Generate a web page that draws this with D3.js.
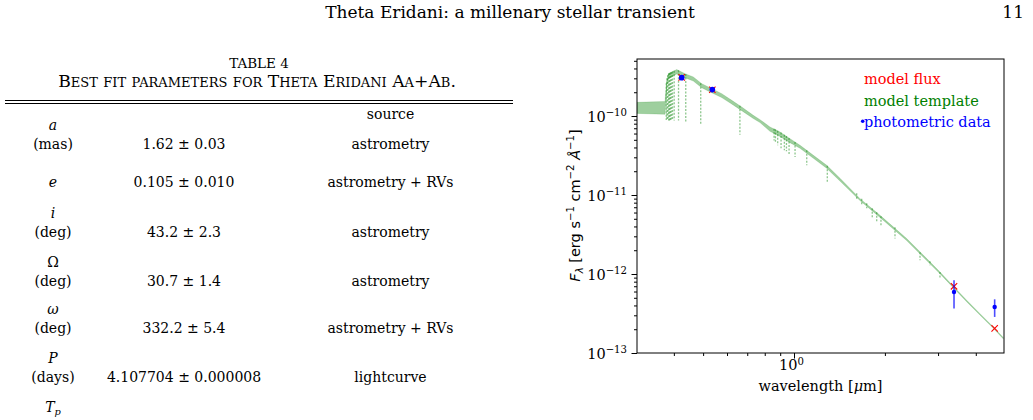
<!DOCTYPE html>
<html>
<head>
<meta charset="utf-8">
<script src="https://cdn.jsdelivr.net/npm/d3@7"></script>
<style>
  body { margin: 0; background: #fff; }
  svg { display: block; font-family: "DejaVu Serif", serif; }
</style>
</head>
<body>
<div id="page"></div>
<script>
// page header
const headerTitle = 'Theta Eridani: a millenary stellar transient';
const pageNumber = '11';

// table 4
const tableLabel = 'TABLE 4';
const tableCaption = 'Best fit parameters for Theta Eridani Aa+Ab.';
const paramSymbols = ['a', 'e', 'i', 'Ω', 'ω', 'P', 'T_p'];
const paramUnits = ['(mas)', '', '(deg)', '(deg)', '(deg)', '(days)', ''];
const paramValues = ['1.62 ± 0.03', '0.105 ± 0.010', '43.2 ± 2.3', '30.7 ± 1.4', '332.2 ± 5.4', '4.107704 ± 0.000008', ''];
const paramSources = ['astrometry', 'astrometry + RVs', 'astrometry', 'astrometry', 'astrometry + RVs', 'lightcurve', ''];

// SED: model template envelope (wavelength in micron, flux in erg/s/cm2/A)
const templateWave = [0.302, 0.374, 0.379, 0.3835, 0.3936, 0.4089, 0.4355, 0.4641, 0.4948, 0.5339, 0.5762, 0.6219, 0.6711, 0.733, 0.7717, 0.8327, 0.8989, 0.970, 1.047, 1.159, 1.283, 1.420, 1.654, 1.927, 2.361, 2.751, 3.044, 3.370, 3.732, 4.129, 4.571, 4.932];
const templateHigh = [1.49e-10, 1.53e-10, 2.83e-10, 3.44e-10, 3.61e-10, 3.87e-10, 3.44e-10, 3.12e-10, 2.57e-10, 2.22e-10, 1.92e-10, 1.58e-10, 1.30e-10, 1.02e-10, 9.0e-11, 7.26e-11, 6.27e-11, 5.17e-11, 4.26e-11, 3.18e-11, 2.38e-11, 1.63e-11, 9.0e-12, 5.53e-12, 2.81e-12, 1.57e-12, 1.06e-12, 6.99e-13, 4.64e-13, 3.15e-13, 2.13e-13, 1.57e-13];
const templateLow = [1.08e-10, 1.05e-10, 2.4e-10, 3.0e-10, 3.15e-10, 3.4e-10, 3.05e-10, 2.77e-10, 2.28e-10, 1.97e-10, 1.71e-10, 1.42e-10, 1.17e-10, 9.3e-11, 8.25e-11, 6.4e-11, 5.5e-11, 4.6e-11, 3.9e-11, 2.92e-11, 2.18e-11, 1.5e-11, 8.5e-12, 5.2e-12, 2.65e-12, 1.48e-12, 1.01e-12, 6.7e-13, 4.45e-13, 3.02e-13, 2.05e-13, 1.51e-13];

// absorption lines of the template (position, continuum, line bottom)
const lineWave = [0.3775, 0.3795, 0.382, 0.3845, 0.387, 0.3895, 0.3925, 0.396, 0.401, 0.4145, 0.438, 0.491, 0.662, 0.859, 0.868, 0.883, 0.906, 0.929, 0.944, 0.963, 1.008, 1.102, 1.289, 1.613, 1.676, 1.741, 1.816, 1.879, 1.941, 2.160, 2.614, 2.820, 3.044];
const lineTop = [2.6e-10, 3.0e-10, 3.3e-10, 3.45e-10, 3.5e-10, 3.55e-10, 3.6e-10, 3.65e-10, 3.75e-10, 3.8e-10, 3.4e-10, 2.6e-10, 1.35e-10, 6.9e-11, 6.8e-11, 6.5e-11, 6.2e-11, 5.8e-11, 5.6e-11, 5.25e-11, 4.7e-11, 3.7e-11, 2.35e-11, 1.05e-11, 9.0e-12, 7.85e-12, 6.8e-12, 6.04e-12, 5.37e-12, 3.9e-12, 1.88e-12, 1.45e-12, 1.06e-12];
const lineBottom = [8.9e-11, 8.9e-11, 8.9e-11, 8.8e-11, 8.8e-11, 8.8e-11, 8.8e-11, 8.8e-11, 8.8e-11, 8.8e-11, 8.4e-11, 7.7e-11, 5.8e-11, 4.9e-11, 4.65e-11, 4.26e-11, 3.9e-11, 3.68e-11, 3.57e-11, 3.27e-11, 3.03e-11, 2.38e-11, 1.46e-11, 8.57e-12, 7.41e-12, 6.79e-12, 5.07e-12, 4.51e-12, 4.13e-12, 2.81e-12, 1.49e-12, 1.29e-12, 8.83e-13];

// photometry and model flux at the photometric bands
const photWave = [0.4247, 0.5364, 3.388, 4.619];
const photFlux = [3.06e-10, 2.16e-10, 5.92e-13, 3.82e-13];
const photErrLow = [2.98e-10, 2.10e-10, 3.65e-13, 2.86e-13];
const photErrHigh = [3.14e-10, 2.22e-10, 8.32e-13, 4.78e-13];
const modelFlux = [3.08e-10, 2.15e-10, 6.99e-13, 2.05e-13];

const legendLabels = ['model flux', 'model template', 'photometric data'];
const legendColors = ['red', 'green', 'blue'];
const yMajorTicks = [1e-13, 1e-12, 1e-11, 1e-10];
const xMajorTicks = [1];

const W = 1033, H = 420;
const svg = d3.select('#page').append('svg').attr('width', W).attr('height', H);
svg.append('rect').attr('width', W).attr('height', H).attr('fill', '#fff');

// running head
svg.append('text').attr('x', 510).attr('y', 18).attr('text-anchor', 'middle')
  .attr('font-size', 17).text(headerTitle);
svg.append('text').attr('x', 1024).attr('y', 18).attr('text-anchor', 'end')
  .attr('font-size', 17).text(pageNumber);

// ---- table ----
function smallCaps(sel, str, big, small) {
  let cur = null, size = null;
  for (const ch of str) {
    const isLower = ch !== ch.toUpperCase();
    const s = isLower ? small : big;
    if (s !== size) {
      cur = sel.append('tspan').attr('font-size', s);
      size = s;
      cur.text('');
    }
    cur.text(cur.text() + ch.toUpperCase());
  }
}

function symbolText(sel, sym) {
  const parts = sym.split('_');
  sel.append('tspan').attr('font-style', sym === 'Ω' ? 'normal' : 'italic').text(parts[0]);
  if (parts[1]) {
    sel.append('tspan').attr('font-style', 'italic').attr('font-size', '0.7em')
      .attr('dy', 3).text(parts[1]);
  }
}

const table = svg.append('g').attr('font-size', 14);
table.append('text').attr('x', 259).attr('y', 68).attr('text-anchor', 'middle')
  .attr('font-size', 13.5).text(tableLabel);
const cap = table.append('text').attr('x', 257).attr('y', 87).attr('text-anchor', 'middle');
smallCaps(cap, tableCaption, 17.2, 13);

[100.5, 103.5].forEach(yy => {
  table.append('line').attr('x1', 5).attr('x2', 513).attr('y1', yy).attr('y2', yy)
    .attr('stroke', '#000').attr('stroke-width', 1);
});

const colX = [53, 184, 390.5];
const rowTop = [129.5, 186.5, 217.5, 267, 314, 363, 412];
const lineGap = 19;
table.append('text').attr('x', colX[2]).attr('y', 119).attr('text-anchor', 'middle').text('source');

paramSymbols.forEach((sym, i) => {
  const t = table.append('text').attr('x', colX[0]).attr('y', rowTop[i]).attr('text-anchor', 'middle');
  symbolText(t, sym);
  const lastY = paramUnits[i] ? rowTop[i] + lineGap : rowTop[i];
  if (paramUnits[i]) {
    table.append('text').attr('x', colX[0]).attr('y', lastY).attr('text-anchor', 'middle').text(paramUnits[i]);
  }
  table.append('text').attr('x', colX[1]).attr('y', lastY).attr('text-anchor', 'middle').text(paramValues[i]);
  table.append('text').attr('x', colX[2]).attr('y', lastY).attr('text-anchor', 'middle').text(paramSources[i]);
});

// ---- SED chart ----
const plot = { left: 637, right: 1004, top: 59, bottom: 353 };
const x = d3.scaleLog().domain([0.302, 4.96]).range([plot.left, plot.right]);
const y = d3.scaleLog().domain([1e-13, 5.27e-10]).range([plot.bottom, plot.top]);

svg.append('clipPath').attr('id', 'plotclip').append('rect')
  .attr('x', plot.left).attr('y', plot.top)
  .attr('width', plot.right - plot.left).attr('height', plot.bottom - plot.top);

const chart = svg.append('g').attr('clip-path', 'url(#plotclip)');

const templ = templateWave.map((w, i) => ({ w, hi: templateHigh[i], lo: templateLow[i] }));
const area = d3.area().x(d => x(d.w)).y0(d => y(d.lo)).y1(d => y(d.hi));
chart.append('path').datum(templ).attr('d', area)
  .attr('fill', 'green').attr('fill-opacity', 0.38)
  .attr('stroke', 'green').attr('stroke-opacity', 0.25).attr('stroke-width', 0.6);

chart.selectAll('line.absorption').data(lineWave).join('line')
  .attr('class', 'absorption')
  .attr('x1', d => x(d)).attr('x2', d => x(d))
  .attr('y1', (d, i) => y(lineTop[i])).attr('y2', (d, i) => y(lineBottom[i]))
  .attr('stroke', 'green').attr('stroke-opacity', 0.45)
  .attr('stroke-width', 1.3).attr('stroke-dasharray', '2,1.5');

// model flux (red x)
const xs = 3.2;
chart.selectAll('path.mflux').data(photWave).join('path')
  .attr('class', 'mflux')
  .attr('d', (d, i) => {
    const cx = x(d), cy = y(modelFlux[i]);
    return `M${cx - xs},${cy - xs}L${cx + xs},${cy + xs}M${cx - xs},${cy + xs}L${cx + xs},${cy - xs}`;
  })
  .attr('stroke', 'red').attr('stroke-width', 1.1).attr('fill', 'none');

// photometric data with error bars
chart.selectAll('line.err').data(photWave).join('line')
  .attr('class', 'err')
  .attr('x1', d => x(d)).attr('x2', d => x(d))
  .attr('y1', (d, i) => y(photErrHigh[i])).attr('y2', (d, i) => y(photErrLow[i]))
  .attr('stroke', 'blue').attr('stroke-opacity', 0.7).attr('stroke-width', 1.6);
chart.selectAll('circle.phot').data(photWave).join('circle')
  .attr('class', 'phot')
  .attr('cx', d => x(d)).attr('cy', (d, i) => y(photFlux[i]))
  .attr('r', (d, i) => i < 2 ? 2.8 : 2.2).attr('fill', 'blue');

// axes
const isPow10 = d => Math.abs(Math.log10(d) - Math.round(Math.log10(d))) < 1e-6;
function powLabels(g) {
  g.selectAll('.tick text').each(function (d) {
    const t = d3.select(this);
    const e = Math.round(Math.log10(d));
    t.text('');
    t.append('tspan').text('10');
    t.append('tspan').attr('font-size', '0.7em').attr('dy', '-0.55em')
      .text(String(e).replace('-', '\u2212'));
  });
  g.selectAll('text').attr('font-family', '"DejaVu Serif", serif').attr('font-size', 14.5).attr('fill', '#000');
}

const yAxis = svg.append('g').attr('transform', `translate(${plot.left},0)`)
  .call(d3.axisLeft(y).tickValues(yMajorTicks).tickSize(5.5).tickPadding(4.5).tickFormat(d => d))
  .call(g => g.select('.domain').remove())
  .call(powLabels);
yAxis.selectAll('.tick text').attr('dy', '0.35em');

svg.append('g').attr('transform', `translate(${plot.left},0)`)
  .call(d3.axisLeft(y).tickValues(y.ticks().filter(d => !isPow10(d))).tickSize(3).tickFormat(''))
  .call(g => g.select('.domain').remove());

const xAxis = svg.append('g').attr('transform', `translate(0,${plot.bottom})`)
  .call(d3.axisBottom(x).tickValues(xMajorTicks).tickSize(5.5).tickPadding(3).tickFormat(d => d))
  .call(g => g.select('.domain').remove())
  .call(powLabels);
xAxis.selectAll('.tick text').attr('dy', '0.62em').attr('x', -3);

svg.append('g').attr('transform', `translate(0,${plot.bottom})`)
  .call(d3.axisBottom(x).tickValues(x.ticks().filter(d => !isPow10(d))).tickSize(3).tickFormat(''))
  .call(g => g.select('.domain').remove());

svg.append('rect')
  .attr('x', plot.left).attr('y', plot.top)
  .attr('width', plot.right - plot.left).attr('height', plot.bottom - plot.top)
  .attr('fill', 'none').attr('stroke', '#000').attr('stroke-width', 1);

// axis labels
svg.append('text').attr('x', (plot.left + plot.right) / 2).attr('y', 391)
  .attr('text-anchor', 'middle').attr('font-size', 14.5)
  .call(t => {
    t.append('tspan').text('wavelength [');
    t.append('tspan').attr('font-style', 'italic').text('μ');
    t.append('tspan').text('m]');
  });

const ylab = svg.append('text')
  .attr('transform', `translate(580,205.5) rotate(-90)`)
  .attr('text-anchor', 'middle')
  .attr('font-family', '"DejaVu Sans", sans-serif').attr('font-size', 14.5);
ylab.append('tspan').attr('font-style', 'italic').text('F');
ylab.append('tspan').attr('font-style', 'italic').attr('font-size', '0.7em').attr('dy', 3).text('λ');
ylab.append('tspan').attr('dy', -3).text(' [erg s');
ylab.append('tspan').attr('font-size', '0.7em').attr('dy', -6).text('\u22121');
ylab.append('tspan').attr('dy', 6).text(' cm');
ylab.append('tspan').attr('font-size', '0.7em').attr('dy', -6).text('\u22122');
ylab.append('tspan').attr('dy', 6).attr('font-style', 'italic').text(' Å');
ylab.append('tspan').attr('font-size', '0.7em').attr('dy', -6).text('\u22121');
ylab.append('tspan').attr('dy', 6).text(']');

// legend
const legend = svg.append('g').attr('font-size', 14.5);
legend.selectAll('text').data(legendLabels).join('text')
  .attr('x', 864).attr('y', (d, i) => 84 + i * 21.5)
  .attr('fill', (d, i) => legendColors[i]).text(d => d);
legend.append('circle').attr('cx', 862.7).attr('cy', 121.3).attr('r', 1.8).attr('fill', 'blue');
</script>
</body>
</html>
